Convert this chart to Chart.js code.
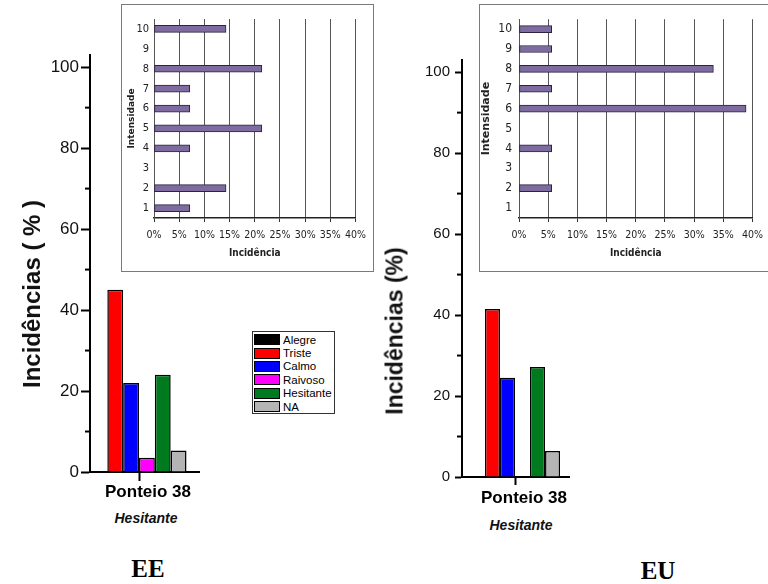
<!DOCTYPE html>
<html lang="pt">
<head>
<meta charset="utf-8">
<script src="https://cdn.jsdelivr.net/npm/chart.js@4.4.1/dist/chart.umd.min.js"></script>
<style>
  html, body { margin:0; padding:0; background:#fff; width:768px; height:584px; overflow:hidden; font-family:'Liberation Sans', Arial, sans-serif; }
  canvas { position:absolute; }
  .inset { background:#fff; outline:1px solid #7a7a7a; }
  .txt { position:absolute; white-space:nowrap; color:#111; transform:translate(-50%,-50%); }
  .ytitle { position:absolute; white-space:nowrap; color:#111; font-weight:bold; transform:translate(-50%,-50%) rotate(-90deg); }
  .sub { font-weight:bold; font-style:italic; font-size:14px; }
  .panel { font-family:'Liberation Serif', 'Times New Roman', serif; font-weight:bold; font-size:25px; color:#000; }
  #legend { position:absolute; left:252px; top:331px; width:83px; height:83px; box-sizing:border-box; border:1px solid #333; background:#fff; padding-top:1px; }
  #legend div { height:13.4px; display:flex; align-items:center; font-size:11.5px; color:#000; }
  #legend span.sw { display:inline-block; width:26px; height:11px; border:1px solid #000; margin:0 3px 0 1px; box-sizing:border-box; }
</style>
</head>
<body>
<canvas id="mainEE" width="215" height="460" style="left:0;top:40px"></canvas>
<canvas id="mainEU" width="210" height="470" style="left:380px;top:40px"></canvas>
<canvas id="insetEE" class="inset" width="251" height="266" style="left:122px;top:5px"></canvas>
<canvas id="insetEU" class="inset" width="290" height="266" style="left:480px;top:5px"></canvas>

<div class="ytitle" style="left:32px;top:294px;font-size:24px">Incidências ( % )</div>
<div class="ytitle" style="left:395px;top:331px;font-size:23px">Incidências (%)</div>
<div class="txt sub" style="left:146px;top:518px">Hesitante</div>
<div class="txt sub" style="left:521px;top:525px">Hesitante</div>
<div class="txt panel" style="left:148px;top:569px">EE</div>
<div class="txt panel" style="left:658px;top:571px">EU</div>
<div id="legend"></div>

<script>
// main bars: one piece, six emotion categories
const pieces = ['Ponteio 38'];
const emotions = ['Alegre', 'Triste', 'Calmo', 'Raivoso', 'Hesitante', 'NA'];
const barColors = ['#000000', '#ff0000', '#0000ff', '#ff00ff', '#007a1e', '#b4b4b4'];
const eeValues = [0, 45, 22, 3.5, 24, 5.3];
const euValues = [0, 41.5, 24.5, 0, 27.2, 6.4];
const minorTicks = [10, 30, 50, 70, 90];

// insets: incidence per intensity level (%)
const intensities = ['1', '2', '3', '4', '5', '6', '7', '8', '9', '10'];
const eeIntensity = [7.1, 14.3, 0, 7.1, 21.4, 7.1, 7.1, 21.4, 0, 14.3];
const euIntensity = [0, 5.6, 0, 5.6, 0, 38.9, 5.6, 33.3, 5.6, 5.6];

const narrow = "'Liberation Sans Narrow', 'DejaVu Sans Condensed', 'Liberation Sans', sans-serif";

// minor y ticks + short extension of the x axis
const axisExtras = {
  id: 'axisExtras',
  afterDraw(chart, args, opts) {
    const {ctx, chartArea} = chart;
    const y = chart.scales.y;
    ctx.save();
    ctx.strokeStyle = '#000';
    ctx.lineWidth = 2;
    for (const v of minorTicks) {
      const py = y.getPixelForValue(v);
      ctx.beginPath();
      ctx.moveTo(chartArea.left - opts.len, py);
      ctx.lineTo(chartArea.left, py);
      ctx.stroke();
    }
    if (opts.extend) {
      ctx.beginPath();
      ctx.moveTo(chartArea.right - 1, chartArea.bottom);
      ctx.lineTo(chartArea.right + opts.extend, chartArea.bottom);
      ctx.stroke();
    }
    ctx.restore();
  }
};

function mainChart(id, values, o) {
  return new Chart(document.getElementById(id), {
    type: 'bar',
    data: {
      labels: pieces,
      datasets: emotions.map((e, i) => ({
        label: e, data: [values[i]],
        backgroundColor: barColors[i], borderColor: '#000', borderWidth: 1.5,
        categoryPercentage: o.cat, barPercentage: 1
      }))
    },
    options: {
      responsive: false, animation: false,
      layout: {padding: {top: o.top, right: o.right, left: 0, bottom: 0}},
      plugins: {legend: {display: false}, tooltip: {enabled: false}, axisExtras: {len: 5, extend: o.extend}},
      scales: {
        x: {
          grid: {drawOnChartArea: false, offset: false, tickLength: o.xTick, tickWidth: 2, tickColor: '#000'},
          border: {color: '#000', width: 2},
          ticks: {color: '#000', font: {size: 17, weight: 'bold'}, padding: o.xPad, labelOffset: 9},
          afterFit: s => { s.height = o.xh; }
        },
        y: {
          min: 0, max: 103,
          ticks: {stepSize: 20, includeBounds: false, color: '#111', font: {size: o.yFont}, padding: o.yPad},
          grid: {drawOnChartArea: false, tickLength: o.yTick, tickWidth: 2, tickColor: '#000'},
          border: {color: '#000', width: 2},
          afterFit: s => { s.width = o.yw; }
        }
      }
    },
    plugins: [axisExtras]
  });
}

function insetChart(id, values, o) {
  return new Chart(document.getElementById(id), {
    type: 'bar',
    data: {
      labels: intensities,
      datasets: [{data: values, backgroundColor: '#7e6b9f', borderColor: '#2b2340', borderWidth: 1, borderSkipped: false, barThickness: 7}]
    },
    options: {
      indexAxis: 'y', responsive: false, animation: false,
      layout: {padding: {top: 14, right: o.right, left: 0, bottom: 0}},
      plugins: {legend: {display: false}, tooltip: {enabled: false}},
      scales: {
        x: {
          min: 0, max: 40,
          ticks: {stepSize: 5, callback: v => v + '%', color: '#222', font: {family: narrow, size: 10.5}, padding: 7, maxRotation: 0, autoSkip: false},
          grid: {color: '#555', lineWidth: 1, tickLength: 4, tickColor: '#333'},
          border: {color: '#222', width: 1.5},
          title: {display: true, text: 'Incidência', color: '#222', font: {family: narrow, size: 10, weight: 'bold'}, padding: {top: 0, bottom: 12}},
          afterFit: s => { s.height = 53; }
        },
        y: {
          reverse: true,
          grid: {display: false, drawTicks: false, tickLength: 0},
          border: {color: '#555', width: 1},
          ticks: {color: '#222', font: {family: narrow, size: o.tick}, padding: o.yPad},
          title: {display: true, text: 'Intensidade', color: '#222', font: {family: 'DejaVu Sans', size: o.tsize, weight: 'bold'}, padding: {top: o.tpad, bottom: 0}},
          afterFit: s => { s.width = o.yw; }
        }
      }
    }
  });
}

mainChart('mainEE', eeValues, {top: 15, right: 27, cat: 0.97, xh: 28, xTick: 9, xPad: 1, yw: 90, yTick: 9, yPad: 2, yFont: 17, extend: 12});
mainChart('mainEU', euValues, {top: 20, right: 22, cat: 0.85, xh: 33, xTick: 8, xPad: 3, yw: 82, yTick: 7, yPad: 5, yFont: 15, extend: 2});
insetChart('insetEE', eeIntensity, {right: 13, yw: 32, yPad: 5, tick: 11, tsize: 9, tpad: 4});
insetChart('insetEU', euIntensity, {right: 9, yw: 39, yPad: 7, tick: 12, tsize: 11, tpad: 0});

const legend = document.getElementById('legend');
emotions.forEach((e, i) => {
  const row = document.createElement('div');
  row.innerHTML = `<span class="sw" style="background:${barColors[i]}"></span>${e}`;
  legend.appendChild(row);
});
</script>
</body>
</html>
